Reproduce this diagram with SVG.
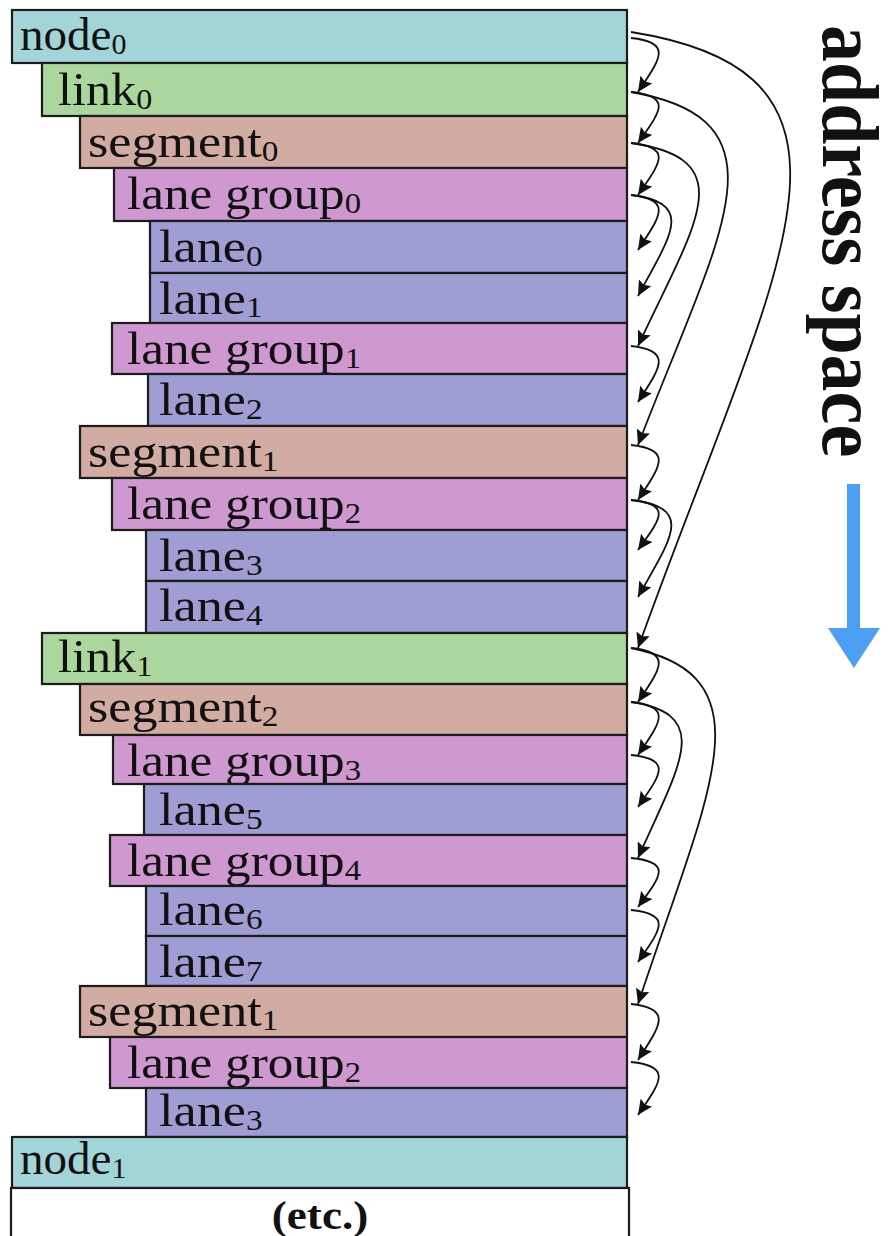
<svg xmlns="http://www.w3.org/2000/svg" width="893" height="1236" viewBox="0 0 893 1236">
<style>
.box{stroke:#1c1c1c;stroke-width:2.2}
.node{fill:#a3d5d8}.link{fill:#abd79e}.seg{fill:#d2aca3}.lg{fill:#cf98d0}.lane{fill:#9e9dd4}.etc{fill:#ffffff}
.lbl{font-family:"Liberation Serif","Times New Roman",serif;font-size:47px;fill:#111}
.sub{font-size:30px}
.conn path{fill:none;stroke:#111;stroke-width:1.8;marker-end:url(#ah)}
.title{font-family:"Liberation Serif","Times New Roman",serif;font-weight:bold;fill:#111}
</style>
<defs>
<marker id="ah" markerUnits="userSpaceOnUse" markerWidth="16" markerHeight="14" viewBox="0 0 16 14" refX="15" refY="7" orient="auto">
<path d="M0,0 L15,7 L0,14 L2.5,7 z" fill="#111"/>
</marker>
</defs>

<g id="node0"><rect class="box node" x="12" y="10" width="615" height="53"/><text class="lbl" transform="translate(20,50) scale(1.0,1)">node<tspan class="sub" dy="4">0</tspan></text></g>
<g id="link0"><rect class="box link" x="42" y="63" width="585" height="53"/><text class="lbl" transform="translate(58,105) scale(1.07,1)">link<tspan class="sub" dy="4">0</tspan></text></g>
<g id="segment0"><rect class="box seg" x="80" y="116" width="547" height="52"/><text class="lbl" transform="translate(88,157) scale(1.11,1)">segment<tspan class="sub" dy="4">0</tspan></text></g>
<g id="lanegroup0"><rect class="box lg" x="114" y="168" width="513" height="53"/><text class="lbl" transform="translate(127,209) scale(1.09,1)">lane group<tspan class="sub" dy="4">0</tspan></text></g>
<g id="lane0"><rect class="box lane" x="150" y="221" width="477" height="52"/><text class="lbl" transform="translate(159,262) scale(1.11,1)">lane<tspan class="sub" dy="4">0</tspan></text></g>
<g id="lane1"><rect class="box lane" x="150" y="273" width="477" height="50"/><text class="lbl" transform="translate(159,314) scale(1.11,1)">lane<tspan class="sub" dy="3">1</tspan></text></g>
<g id="lanegroup1"><rect class="box lg" x="112" y="323" width="515" height="51"/><text class="lbl" transform="translate(127,364) scale(1.09,1)">lane group<tspan class="sub" dy="4">1</tspan></text></g>
<g id="lane2"><rect class="box lane" x="148" y="374" width="479" height="52"/><text class="lbl" transform="translate(159,415) scale(1.11,1)">lane<tspan class="sub" dy="4">2</tspan></text></g>
<g id="segment1"><rect class="box seg" x="80" y="426" width="547" height="52"/><text class="lbl" transform="translate(88,467) scale(1.11,1)">segment<tspan class="sub" dy="4">1</tspan></text></g>
<g id="lanegroup2"><rect class="box lg" x="112" y="478" width="515" height="52"/><text class="lbl" transform="translate(127,519) scale(1.09,1)">lane group<tspan class="sub" dy="4">2</tspan></text></g>
<g id="lane3"><rect class="box lane" x="146" y="530" width="481" height="51"/><text class="lbl" transform="translate(159,571) scale(1.11,1)">lane<tspan class="sub" dy="4">3</tspan></text></g>
<g id="lane4"><rect class="box lane" x="146" y="581" width="481" height="52"/><text class="lbl" transform="translate(159,621) scale(1.11,1)">lane<tspan class="sub" dy="4">4</tspan></text></g>
<g id="link1"><rect class="box link" x="42" y="633" width="585" height="51"/><text class="lbl" transform="translate(58,672) scale(1.07,1)">link<tspan class="sub" dy="4">1</tspan></text></g>
<g id="segment2"><rect class="box seg" x="80" y="684" width="547" height="51"/><text class="lbl" transform="translate(88,722) scale(1.11,1)">segment<tspan class="sub" dy="4">2</tspan></text></g>
<g id="lanegroup3"><rect class="box lg" x="113" y="735" width="514" height="49"/><text class="lbl" transform="translate(127,776) scale(1.09,1)">lane group<tspan class="sub" dy="4">3</tspan></text></g>
<g id="lane5"><rect class="box lane" x="144" y="784" width="483" height="51"/><text class="lbl" transform="translate(159,825) scale(1.11,1)">lane<tspan class="sub" dy="4">5</tspan></text></g>
<g id="lanegroup4"><rect class="box lg" x="110" y="835" width="517" height="51"/><text class="lbl" transform="translate(127,876) scale(1.09,1)">lane group<tspan class="sub" dy="4">4</tspan></text></g>
<g id="lane6"><rect class="box lane" x="146" y="886" width="481" height="50"/><text class="lbl" transform="translate(159,925) scale(1.11,1)">lane<tspan class="sub" dy="4">6</tspan></text></g>
<g id="lane7"><rect class="box lane" x="146" y="936" width="481" height="50"/><text class="lbl" transform="translate(159,977) scale(1.11,1)">lane<tspan class="sub" dy="4">7</tspan></text></g>
<g id="segment1b"><rect class="box seg" x="80" y="986" width="547" height="51"/><text class="lbl" transform="translate(88,1026) scale(1.11,1)">segment<tspan class="sub" dy="4">1</tspan></text></g>
<g id="lanegroup2b"><rect class="box lg" x="110" y="1037" width="517" height="51"/><text class="lbl" transform="translate(127,1078) scale(1.09,1)">lane group<tspan class="sub" dy="4">2</tspan></text></g>
<g id="lane3b"><rect class="box lane" x="146" y="1088" width="481" height="49"/><text class="lbl" transform="translate(159,1126) scale(1.11,1)">lane<tspan class="sub" dy="4">3</tspan></text></g>
<g id="node1"><rect class="box node" x="12" y="1137" width="615" height="51"/><text class="lbl" transform="translate(20,1174) scale(1.0,1)">node<tspan class="sub" dy="4">1</tspan></text></g>
<g id="etc"><rect class="box etc" x="11" y="1188" width="618" height="52"/><text class="title" font-size="41" text-anchor="middle" transform="translate(320,1229) scale(1.1,1)">(etc.)</text></g>

<g id="connectors" class="conn">
<path d="M631,38 C674,42.3 659.5,59.6 638,92"/>
<path d="M631,92 C674,96.1 659.5,112.4 638,143"/>
<path d="M631,143 C674,147.2 659.5,163.8 638,195"/>
<path d="M631,195 C674,199.4 659.5,217 638,250"/>
<path d="M631,346 C674,350.5 659.5,368.4 638,402"/>
<path d="M631,445 C674,449.4 659.5,467 638,500"/>
<path d="M631,500 C674,504 659.5,520 638,550"/>
<path d="M631,648 C674,652.3 659.5,669.6 638,702"/>
<path d="M631,702 C674,706.2 659.5,723.2 638,755"/>
<path d="M631,755 C674,759.2 659.5,775.8 638,807"/>
<path d="M631,858 C674,861.9 659.5,877.6 638,907"/>
<path d="M631,910 C674,914.2 659.5,930.8 638,962"/>
<path d="M631,1004 C674,1008.5 659.5,1026.4 638,1060"/>
<path d="M631,1062 C674,1066.2 659.5,1083.2 638,1115"/>
<path d="M631,32 C902,75 773.5,270 638,648"/>
<path d="M631,92 C794,120.2 719.5,233.2 638,445"/>
<path d="M631,143 C744,159.2 694.5,224.2 638,346"/>
<path d="M631,195 C696,203.1 670.5,235.4 638,296"/>
<path d="M631,500 C696,507.8 670.5,538.8 638,597"/>
<path d="M631,648 C772,676.5 708.5,790.4 638,1004"/>
<path d="M631,702 C714,714.5 679.5,764.4 638,858"/>
</g>

<g id="address-space">
<text class="title" font-size="74" transform="translate(823,25) rotate(90) scale(1,1.1)">address space</text>
<rect x="847" y="484" width="13" height="146" fill="#4c9ff2"/>
<path d="M828,628 L880,628 L854,668 z" fill="#4c9ff2"/>
</g>
</svg>
